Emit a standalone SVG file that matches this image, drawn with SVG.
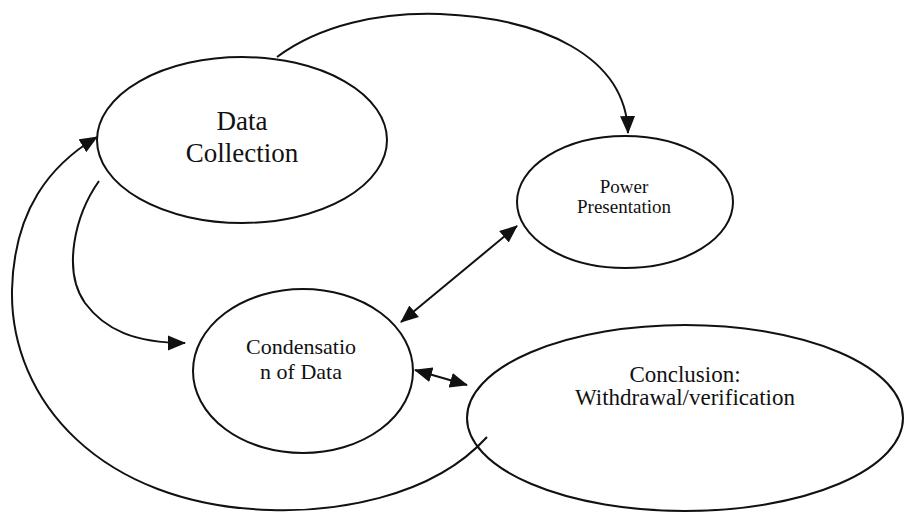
<svg xmlns="http://www.w3.org/2000/svg" width="906" height="514" viewBox="0 0 906 514">
<style>
.node{fill:#fff;stroke:#111;stroke-width:2}
.conn{fill:none;stroke:#111;stroke-width:2}
text{font-family:"Liberation Serif","DejaVu Serif",serif;fill:#111;text-anchor:middle}
</style>
<defs>
<marker id="ah" markerUnits="userSpaceOnUse" markerWidth="18" markerHeight="16" refX="17" refY="7.5" orient="auto-start-reverse" viewBox="0 0 18 15">
<path d="M0,0 L18,7.5 L0,15 z" fill="#111"/>
</marker>
</defs>
<rect width="906" height="514" fill="#fff"/>
<g id="connectors">
<path class="conn" d="M277,57 C320,25 380,12 440,14 C540,18 626,55 628,133" marker-end="url(#ah)"/>
<path class="conn" d="M487,437 C430,500 330,512 270,510 C100,505 10,400 12,290 C14,210 50,165 97,137" marker-end="url(#ah)"/>
<path class="conn" d="M99,181 C75,215 62,270 85,303 C105,330 135,343 185,343" marker-end="url(#ah)"/>
<path class="conn" d="M401,322 L517,226" marker-start="url(#ah)" marker-end="url(#ah)"/>
<path class="conn" d="M415,370 L467,385" marker-start="url(#ah)" marker-end="url(#ah)"/>
</g>
<g id="data-collection">
<ellipse class="node" cx="242" cy="140" rx="145" ry="83"/>
<text x="242" y="130" font-size="27">Data</text>
<text x="242" y="162" font-size="27">Collection</text>
</g>
<g id="power-presentation">
<ellipse class="node" cx="625" cy="202" rx="108" ry="66"/>
<text x="624" y="193" font-size="19">Power</text>
<text x="624" y="213" font-size="19">Presentation</text>
</g>
<g id="condensation">
<ellipse class="node" cx="303" cy="371" rx="110" ry="82"/>
<text x="301" y="354" font-size="22">Condensatio</text>
<text x="301" y="379" font-size="22">n of Data</text>
</g>
<g id="conclusion">
<ellipse class="node" cx="685" cy="418" rx="218" ry="93" fill="none" style="fill:none"/>
<text x="685" y="382" font-size="23">Conclusion:</text>
<text x="685" y="405" font-size="23">Withdrawal/verification</text>
</g>
</svg>
